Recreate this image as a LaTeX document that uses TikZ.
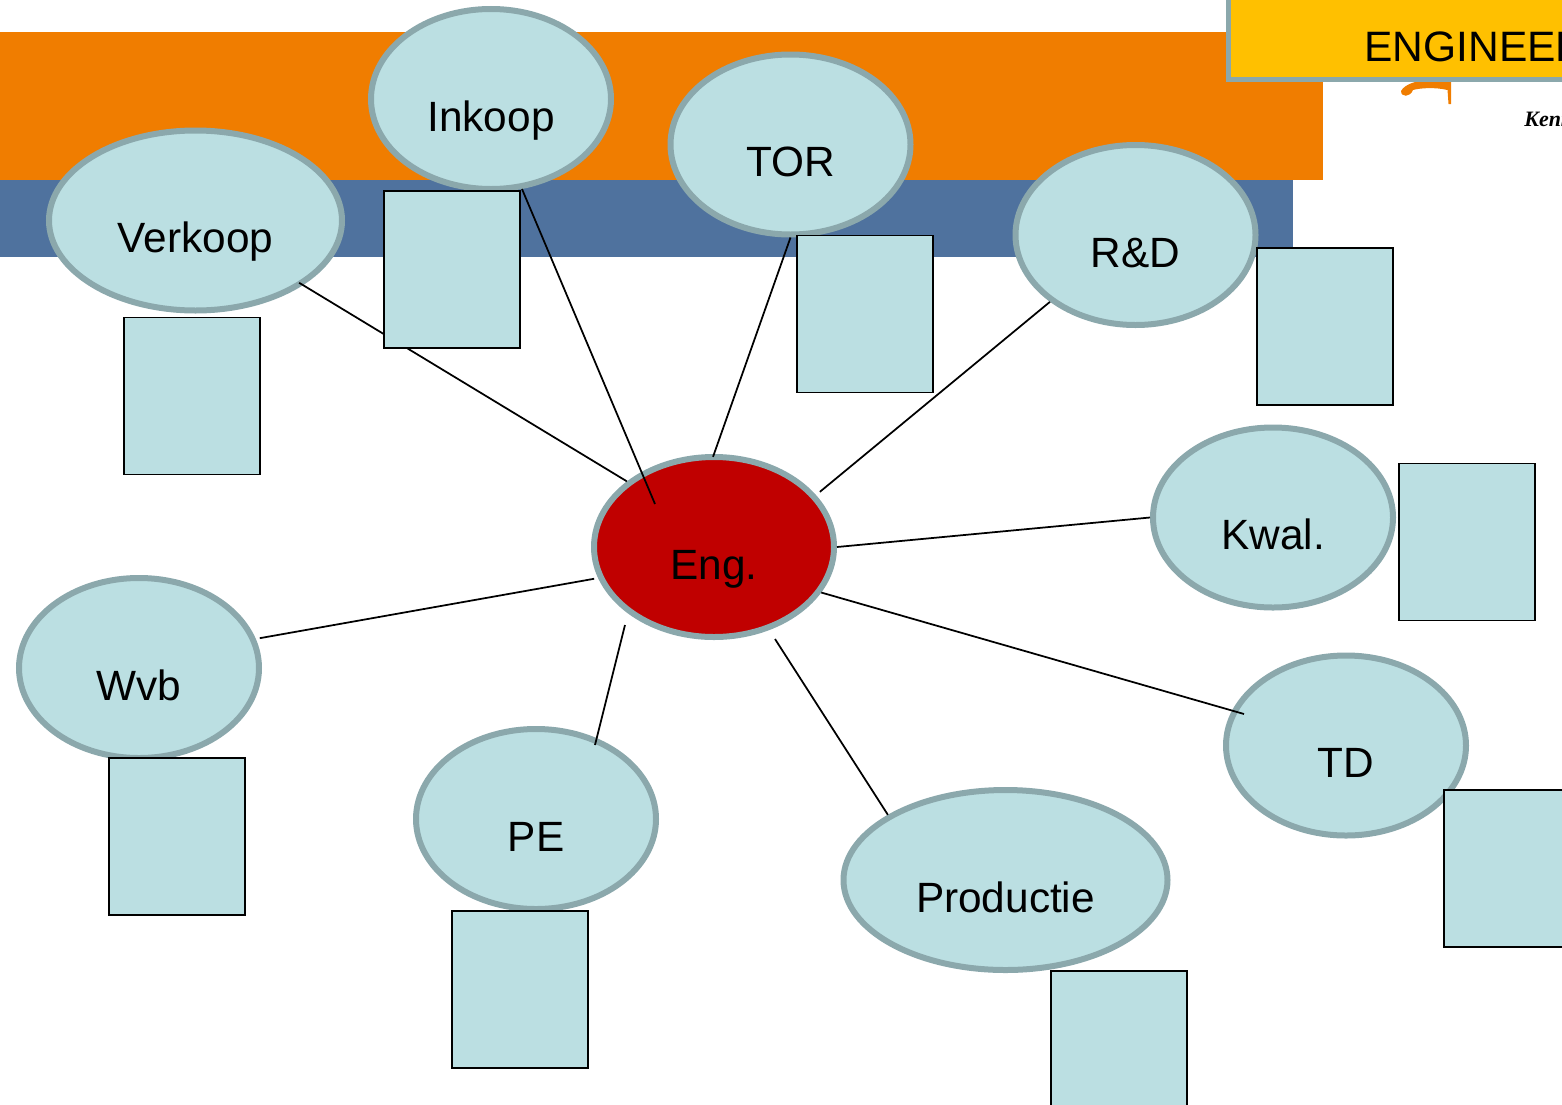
\documentclass[tikz,border=0pt]{standalone}
\usepackage{fontspec}
\setmainfont{Liberation Sans}
\newfontfamily\logofont{Liberation Serif}
\usepackage{xcolor}
\usetikzlibrary{shapes.geometric}
\definecolor{bandorange}{HTML}{F07D00}
\definecolor{bandblue}{HTML}{4F729E}
\definecolor{deptfill}{HTML}{BBDFE2}
\definecolor{deptring}{HTML}{8BA8AC}
\definecolor{titleyellow}{HTML}{FFC000}
\definecolor{engred}{HTML}{C00000}
\tikzset{
	dept/.style={
			ellipse, draw=deptring, fill=deptfill, line width=0.12cm, inner sep=0pt,
			minimum width=4.8cm, minimum height=3.6cm,
			font=\fontsize{24.1}{28}\selectfont, text height=1.29cm, text depth=0pt
		},
	deptbox/.style={
			rectangle, draw=black, fill=deptfill, line width=0.035cm,
			minimum width=2.72cm, minimum height=3.14cm
		},
	link/.style={draw=black, line width=0.035cm}
}

\begin{document}
\begin{tikzpicture}
        \useasboundingbox (0, 0) rectangle (31.24, -22.08);
        \fill[bandorange] (0, -0.64) rectangle (26.46, -3.6);
        \fill[bandblue] (0, -3.6) rectangle (25.86, -5.14);
        \fill[bandorange] (28.45, -1.6) -- (29.02, -1.6) -- (29.02, -2.08) -- (28.97, -2.08) -- (28.95, -1.8) .. controls (28.7, -1.74) and (28.4, -1.76) .. (28.26, -1.8) .. controls (28.2, -1.95) and (28.02, -1.95) .. (28.02, -1.82) .. controls (28.1, -1.68) and (28.3, -1.64) .. (28.45, -1.6);
        \node[anchor=west, inner sep=0pt, font=\logofont\bfseries\itshape\fontsize{12.5}{14}\selectfont] (logotext) at (30.48, -2.38) {Kenn};
        \node[rectangle, draw=deptring, fill=titleyellow, line width=0.1cm, minimum width=8cm, minimum height=2cm, anchor=south west] (titlebox) at (24.52, -1.63) {};
        \node[anchor=base west, inner sep=0pt, font=\fontsize{24.2}{28}\selectfont] (titletext) at (27.28, -1.22) {ENGINEERING};
        \node[dept, minimum width=5.86cm] (verkoop) at (3.91, -4.41) {Verkoop};
        \node[dept] (inkoop) at (9.82, -1.98) {Inkoop};
        \node[dept] (tor) at (15.81, -2.89) {TOR};
        \node[dept] (rd) at (22.71, -4.7) {R\&D};
        \node[dept] (kwal) at (25.46, -10.35) {Kwal.};
        \node[dept] (td) at (26.92, -14.91) {TD};
        \node[dept, minimum width=6.48cm] (productie) at (20.11, -17.6) {Productie};
        \node[dept] (pe) at (10.72, -16.38) {PE};
        \node[dept] (wvb) at (2.78, -13.36) {Wvb};
        \node[dept, fill=engred] (eng) at (14.28, -10.94) {Eng.};
        \coordinate (eng_inkoop) at (13.1, -10.08);
        \coordinate (eng_pe) at (12.5, -12.5);
        \coordinate (eng_productie) at (15.5, -12.78);
        \coordinate (pe_top) at (11.9, -14.9);
        \coordinate (td_left) at (24.88, -14.28);
        \draw[link, shorten <=-0.09cm] (verkoop.-31.4) -- (eng.143);
        \draw[link] (inkoop.-71.7) -- (eng_inkoop);
        \draw[link, shorten >=-0.06cm] (tor.-90) -- (eng.90);
        \draw[link, shorten >=0.1cm] (rd.-142.4) -- (eng.27.4);
        \draw[link] (kwal.180) -- (eng.0);
        \draw[link] (td_left) -- (eng.-23.5);
        \draw[link] (productie.151) -- (eng_productie);
        \draw[link] (pe_top) -- (eng_pe);
        \draw[link, shorten <=0.08cm, shorten >=0.08cm] (wvb.14.5) -- (eng.195);
        \node[deptbox] (verkoop_box) at (3.84, -7.92) {};
        \node[deptbox] (inkoop_box) at (9.04, -5.39) {};
        \node[deptbox] (tor_box) at (17.3, -6.28) {};
        \node[deptbox] (rd_box) at (26.5, -6.53) {};
        \node[deptbox] (kwal_box) at (29.34, -10.84) {};
        \node[deptbox] (td_box) at (30.24, -17.37) {};
        \node[deptbox] (productie_box) at (22.38, -20.99) {};
        \node[deptbox] (pe_box) at (10.4, -19.79) {};
        \node[deptbox] (wvb_box) at (3.54, -16.73) {};
    \end{tikzpicture}
\end{document}
